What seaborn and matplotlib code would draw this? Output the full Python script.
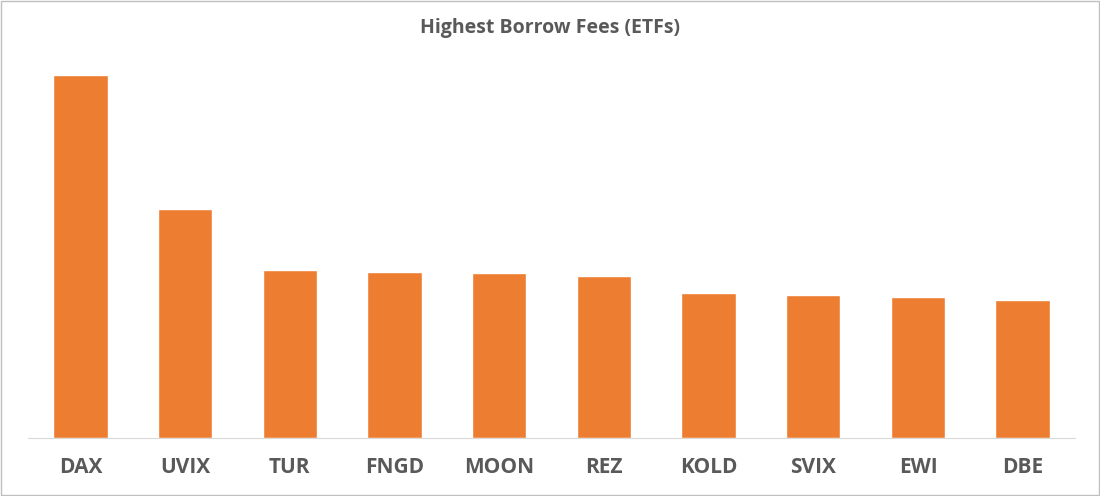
import matplotlib
matplotlib.use("Agg")
import matplotlib.pyplot as plt
import seaborn as sns
import pandas as pd

tickers = ["DAX", "UVIX", "TUR", "FNGD", "MOON", "REZ", "KOLD", "SVIX", "EWI", "DBE"]
fees = [363, 229, 168, 166, 165, 162, 145, 143, 141, 138]

df = pd.DataFrame({"Ticker": tickers, "Fee": fees})

sns.set_style("white")
plt.rcParams['font.family'] = ['Open Sans', 'DejaVu Sans']

fig = plt.figure(figsize=(11, 4.96), dpi=100)
ax = fig.add_axes([28 / 1100, 1 - 438 / 496, 1047 / 1100, 378 / 496])
sns.barplot(data=df, x="Ticker", y="Fee", color="#ED7D31", width=0.52, saturation=1, ax=ax)
ax.set_ylim(0, 378)
ax.set_xlim(-0.5, len(tickers) - 0.5)
ax.set_yticks([])
ax.set_xlabel("")
ax.set_ylabel("")
for s in ["top", "right", "left"]:
    ax.spines[s].set_visible(False)
ax.spines["bottom"].set_color("#D9D9D9")
ax.tick_params(axis="x", length=0, pad=14, labelsize=15, labelcolor="#595959")
for t in ax.get_xticklabels():
    t.set_fontweight("bold")
fig.text(0.5, 1 - 28 / 496, "Highest Borrow Fees (ETFs)", ha="center", va="center",
         fontsize=14, fontweight="bold", color="#595959")
fig.patches.append(plt.Rectangle((0.001, 0.002), 0.998, 0.996, transform=fig.transFigure,
                                 fill=False, edgecolor="#BFBFBF", linewidth=1))
fig.savefig("out.png", dpi=100)
